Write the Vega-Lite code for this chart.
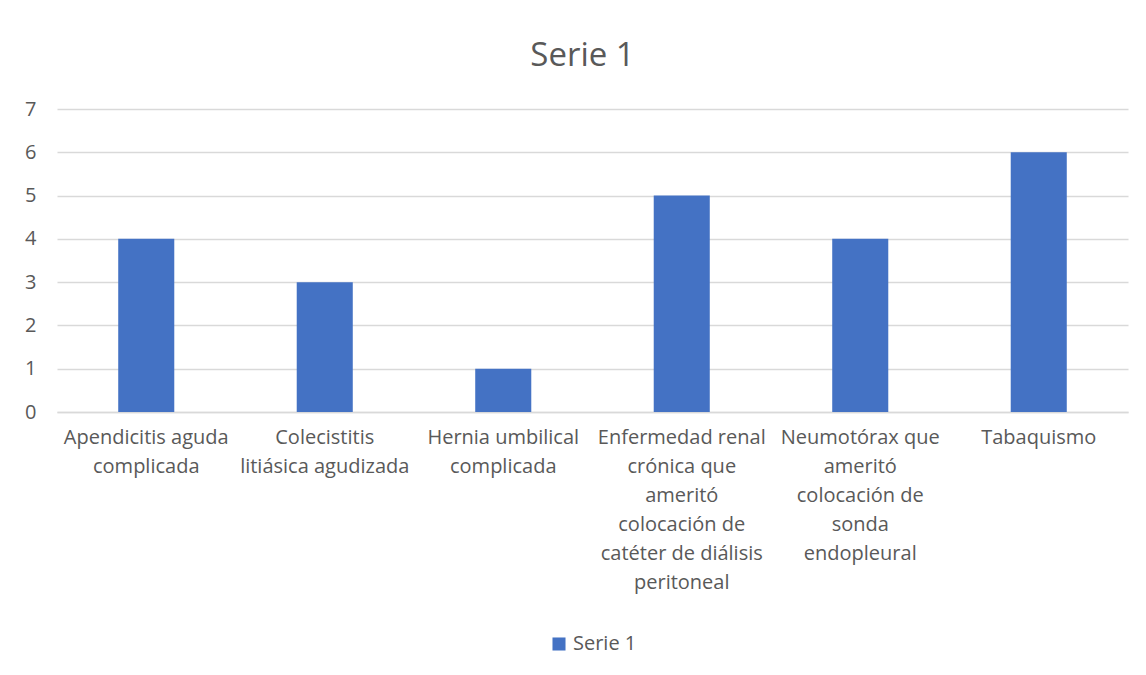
{
  "$schema": "https://vega.github.io/schema/vega-lite/v6.json",
  "autosize": "none",
  "width": 1071,
  "height": 303,
  "padding": {"left": 57, "top": 109, "right": 18, "bottom": 263},
  "background": "white",
  "title": {"text": "Serie 1", "fontSize": 33, "font": "Open Sans", "fontWeight": "normal", "color": "#595959", "anchor": "middle", "offset": 26, "dx": -10},
  "data": {"values": [
    {"cat": "Apendicitis aguda|complicada", "value": 4, "serie": "Serie 1"},
    {"cat": "Colecistitis|litiásica agudizada", "value": 3, "serie": "Serie 1"},
    {"cat": "Hernia umbilical|complicada", "value": 1, "serie": "Serie 1"},
    {"cat": "Enfermedad renal|crónica que|ameritó|colocación de|catéter de diálisis|peritoneal", "value": 5, "serie": "Serie 1"},
    {"cat": "Neumotórax que|ameritó|colocación de|sonda|endopleural", "value": 4, "serie": "Serie 1"},
    {"cat": "Tabaquismo", "value": 6, "serie": "Serie 1"}
  ]},
  "mark": {"type": "bar", "color": "#4472C4"},
  "encoding": {
    "x": {"field": "cat", "type": "nominal", "sort": null,
      "scale": {"paddingInner": 0.686, "paddingOuter": 0.343},
      "axis": {"title": null, "labelAngle": 0, "labelExpr": "split(datum.value, '|')", "labelLineHeight": 29, "labelFontSize": 20, "labelFont": "Open Sans", "labelColor": "#595959", "labelPadding": 15, "ticks": false, "domainColor": "#d9d9d9", "domainWidth": 1.3, "labelLimit": 400, "labelOverlap": false}},
    "y": {"field": "value", "type": "quantitative",
      "scale": {"domain": [0, 7], "nice": false},
      "axis": {"title": null, "values": [0,1,2,3,4,5,6,7], "domain": false, "ticks": false, "labelOverlap": false, "labelFontSize": 20, "labelFont": "Open Sans", "labelColor": "#595959", "labelPadding": 21, "gridColor": "#d9d9d9", "gridWidth": 1.3}},
    "color": {"field": "serie", "type": "nominal", "scale": {"range": ["#4472C4"]},
      "legend": {"title": null, "orient": "bottom", "direction": "horizontal", "symbolType": "square", "symbolSize": 170, "symbolStrokeWidth": 0, "labelOffset": 4, "labelFontSize": 20, "labelFont": "Open Sans", "labelColor": "#595959", "offset": 42}}
  },
  "config": {"view": {"stroke": null}, "legend": {"layout": {"bottom": {"anchor": "middle"}}}}
}
